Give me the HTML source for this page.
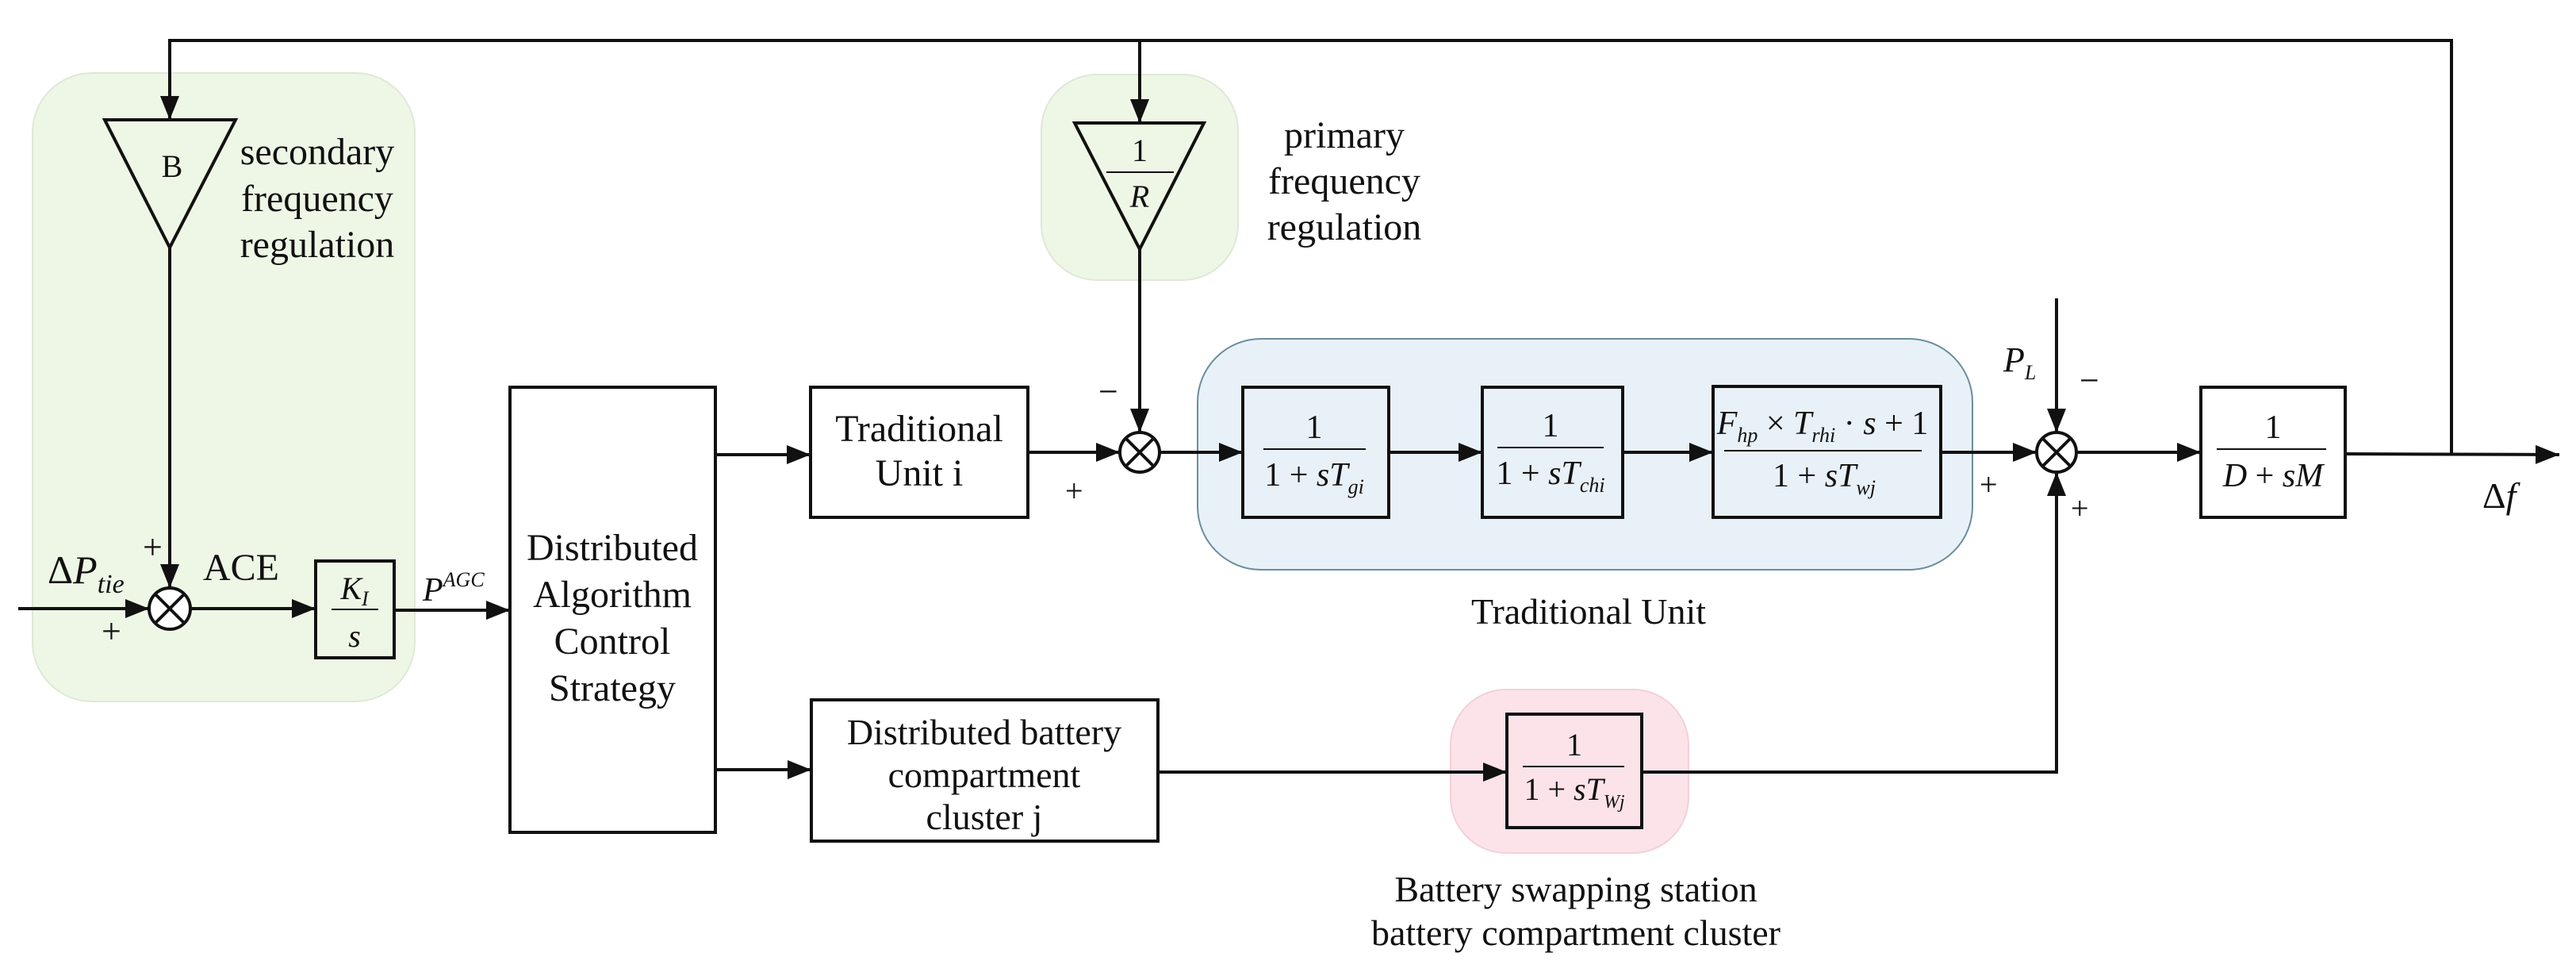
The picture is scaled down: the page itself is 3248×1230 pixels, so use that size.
<!DOCTYPE html>
<html><head><meta charset="utf-8"><style>
html,body{margin:0;padding:0;background:#fff}
svg{display:block}
svg text{font-family:"Liberation Serif","DejaVu Serif",serif;fill:#111}
.i{font-style:italic}
</style></head><body>
<svg width="3248" height="1230" viewBox="0 0 3248 1230" xmlns="http://www.w3.org/2000/svg" font-family="Liberation Serif, DejaVu Serif, serif">
<defs>
<marker id="a" markerUnits="userSpaceOnUse" markerWidth="32" markerHeight="24" refX="30" refY="12" orient="auto">
<path d="M0,0 L30,12 L0,24 Z" fill="#111"/>
</marker>
</defs>
<rect x="41" y="92" width="482" height="792" rx="75" fill="#eef7e6" stroke="#dfe9d6" stroke-width="2"/>
<rect x="1313" y="94" width="248" height="259" rx="70" fill="#eef7e6" stroke="#dfe9d6" stroke-width="2"/>
<rect x="1510" y="427" width="977" height="291" rx="80" fill="#e9f1f8" stroke="#6a8e9e" stroke-width="2"/>
<rect x="1829" y="869" width="300" height="206" rx="70" fill="#fce3ea" stroke="#f2d0da" stroke-width="2"/>

<g stroke="#111" stroke-width="4" fill="none">
<polyline points="3091,571 3091,51 214,51 214,151" marker-end="url(#a)"/>
<line x1="1437" y1="51" x2="1437" y2="155" marker-end="url(#a)"/>
<polygon points="132,151 297,151 214,312" fill="none"/>
<polygon points="1355,155 1518,155 1437,314" fill="none"/>
<line x1="214" y1="312" x2="214" y2="741" marker-end="url(#a)"/>
<line x1="1437" y1="314" x2="1437" y2="545" marker-end="url(#a)"/>
<circle cx="214" cy="767" r="26" fill="#fff"/>
<line x1="196" y1="749" x2="232" y2="785"/><line x1="232" y1="749" x2="196" y2="785"/>
<circle cx="1437" cy="570" r="25" fill="#fff"/>
<line x1="1419" y1="552" x2="1455" y2="588"/><line x1="1455" y1="552" x2="1419" y2="588"/>
<circle cx="2593" cy="570" r="25" fill="#fff"/>
<line x1="2575" y1="552" x2="2611" y2="588"/><line x1="2611" y1="552" x2="2575" y2="588"/>
<line x1="23" y1="767" x2="188" y2="767" marker-end="url(#a)"/>
<line x1="240" y1="767" x2="398" y2="767" marker-end="url(#a)"/>
<rect x="398" y="707" width="99" height="122"/>
<line x1="497" y1="769" x2="643" y2="769" marker-end="url(#a)"/>
<rect x="643" y="488" width="259" height="561"/>
<line x1="902" y1="573" x2="1022" y2="573" marker-end="url(#a)"/>
<line x1="902" y1="970" x2="1023" y2="970" marker-end="url(#a)"/>
<rect x="1022" y="488" width="274" height="164"/>
<rect x="1023" y="882" width="437" height="178"/>
<line x1="1296" y1="570" x2="1412" y2="570" marker-end="url(#a)"/>
<line x1="1462" y1="570" x2="1567" y2="570" marker-end="url(#a)"/>
<rect x="1567" y="488" width="184" height="164"/>
<line x1="1751" y1="570" x2="1869" y2="570" marker-end="url(#a)"/>
<rect x="1869" y="488" width="177" height="164"/>
<line x1="2046" y1="570" x2="2160" y2="570" marker-end="url(#a)"/>
<rect x="2160" y="487" width="287" height="165"/>
<line x1="2447" y1="570" x2="2568" y2="570" marker-end="url(#a)"/>
<line x1="2618" y1="570" x2="2775" y2="570" marker-end="url(#a)"/>
<rect x="2775" y="488" width="182" height="164"/>
<line x1="2957" y1="572" x2="3227" y2="573" marker-end="url(#a)"/>
<line x1="2593" y1="376" x2="2593" y2="545" marker-end="url(#a)"/>
<line x1="1460" y1="973" x2="1900" y2="973" marker-end="url(#a)"/>
<rect x="1900" y="900" width="170" height="143"/>
<polyline points="2070,973 2593,973 2593,595" marker-end="url(#a)"/>
</g>
<g stroke="#111" stroke-width="2">
<line x1="418" y1="768" x2="477" y2="768"/>
<line x1="1395" y1="217" x2="1480" y2="217"/>
<line x1="1593" y1="566" x2="1722" y2="566"/>
<line x1="1888" y1="564" x2="2022" y2="564"/>
<line x1="2174" y1="568" x2="2423" y2="568"/>
<line x1="2795" y1="566" x2="2933" y2="566"/>
<line x1="1920" y1="966" x2="2048" y2="966"/>
</g>
<g font-size="46" font-family="Liberation Serif, DejaVu Serif, serif" fill="#111">
<text x="217" y="223" text-anchor="middle" font-size="40">B</text>
<text x="400" y="207" text-anchor="middle" font-size="48">secondary</text>
<text x="400" y="266" text-anchor="middle" font-size="48">frequency</text>
<text x="400" y="324" text-anchor="middle" font-size="48">regulation</text>
<text x="1695" y="186" text-anchor="middle" font-size="48">primary</text>
<text x="1695" y="244" text-anchor="middle" font-size="48">frequency</text>
<text x="1695" y="302" text-anchor="middle" font-size="48">regulation</text>
<text x="1437" y="203" text-anchor="middle" font-size="40">1</text>
<text x="1437" y="261" text-anchor="middle" font-size="40" class="i">R</text>
<text x="180" y="704" font-size="44">+</text>
<text x="128" y="810" font-size="44">+</text>
<text x="60" y="735" font-size="50">Δ<tspan class="i">P</tspan><tspan class="i" font-size="34" dy="12">tie</tspan></text>
<text x="256" y="731" font-size="48">ACE</text>
<text x="447" y="755" text-anchor="middle" class="i" font-size="40">K<tspan font-size="26" dy="8">I</tspan></text>
<text x="447" y="815" text-anchor="middle" class="i" font-size="40">s</text>
<text x="533" y="757" class="i" font-size="42">P<tspan font-size="26" dy="-18">AGC</tspan></text>
<text x="772" y="706" text-anchor="middle" font-size="48">Distributed</text>
<text x="772" y="765" text-anchor="middle" font-size="48">Algorithm</text>
<text x="772" y="824" text-anchor="middle" font-size="48">Control</text>
<text x="772" y="883" text-anchor="middle" font-size="48">Strategy</text>
<text x="1159" y="556" text-anchor="middle" font-size="48">Traditional</text>
<text x="1159" y="612" text-anchor="middle" font-size="48">Unit i</text>
<text x="1241" y="938" text-anchor="middle" font-size="46">Distributed battery</text>
<text x="1241" y="992" text-anchor="middle" font-size="46">compartment</text>
<text x="1241" y="1045" text-anchor="middle" font-size="46">cluster j</text>
<text x="1385" y="508" font-size="44">−</text>
<text x="1343" y="632" font-size="40">+</text>
<text x="1657" y="552" text-anchor="middle" font-size="42">1</text>
<text x="1657" y="612" text-anchor="middle" font-size="42">1 + <tspan class="i">sT</tspan><tspan class="i" font-size="26" dy="10">gi</tspan></text>
<text x="1955" y="550" text-anchor="middle" font-size="42">1</text>
<text x="1955" y="610" text-anchor="middle" font-size="42">1 + <tspan class="i">sT</tspan><tspan class="i" font-size="26" dy="10">chi</tspan></text>
<text x="2298" y="547" text-anchor="middle" font-size="42"><tspan class="i">F</tspan><tspan class="i" font-size="26" dy="10">hp</tspan><tspan dy="-10"> × </tspan><tspan class="i">T</tspan><tspan class="i" font-size="26" dy="10">rhi</tspan><tspan dy="-10"> · </tspan><tspan class="i">s</tspan> + 1</text>
<text x="2300" y="613" text-anchor="middle" font-size="42">1 + <tspan class="i">sT</tspan><tspan class="i" font-size="26" dy="10">wj</tspan></text>
<text x="2003" y="786" text-anchor="middle" font-size="46">Traditional Unit</text>
<text x="1985" y="952" text-anchor="middle" font-size="40">1</text>
<text x="1985" y="1008" text-anchor="middle" font-size="40">1 + <tspan class="i">sT</tspan><tspan class="i" font-size="24" dy="10">Wj</tspan></text>
<text x="1987" y="1136" text-anchor="middle" font-size="46">Battery swapping station</text>
<text x="1987" y="1191" text-anchor="middle" font-size="46">battery compartment cluster</text>
<text x="2526" y="468" class="i" font-size="44">P<tspan font-size="26" dy="10">L</tspan></text>
<text x="2622" y="494" font-size="44">−</text>
<text x="2496" y="624" font-size="40">+</text>
<text x="2611" y="654" font-size="40">+</text>
<text x="2866" y="552" text-anchor="middle" font-size="42">1</text>
<text x="2866" y="613" text-anchor="middle" font-size="42" class="i">D <tspan font-style="normal">+</tspan> sM</text>
<text x="3130" y="640" font-size="46">Δ<tspan class="i">f</tspan></text>
</g>
</svg>
</body></html>
